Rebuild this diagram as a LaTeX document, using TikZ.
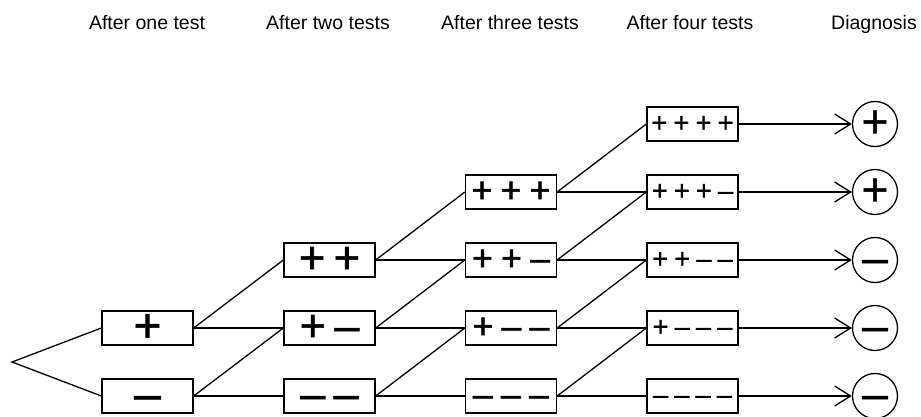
\documentclass[tikz,border=0pt]{standalone}
\usepackage{fontspec}
\setmainfont{Liberation Sans}
\newfontfamily\sgfont{Liberation Sans}[FakeBold=1.3]
\newfontfamily\sgfontl{Liberation Sans}[FakeBold=0.6]
\usetikzlibrary{arrows.meta}
\newcommand\sgP{+}
\newcommand\sgM{–}
\begin{document}
\begin{tikzpicture}[x=1pt,y=-1pt,
  box/.style={draw,line width=1.3pt,minimum width=91pt,minimum height=34pt,inner sep=0pt},
  conn/.style={line width=1.3pt},
  diagc/.style={draw,circle,line width=1.3pt,minimum size=45pt,inner sep=0pt,font=\sgfont\fontsize{46}{48}\selectfont},
  hdr/.style={font=\fontsize{19.5}{22}\selectfont,anchor=base},
  colA/.style={font=\sgfont\fontsize{48}{50}\selectfont},
  colB/.style={font=\sgfont\fontsize{45}{47}\selectfont},
  colC/.style={font=\sgfont\fontsize{36}{38}\selectfont},
  colD/.style={font=\sgfontl\fontsize{27.5}{30}\selectfont},
  tip/.style={-{Straight Barb[length=16pt,width=20pt,line width=1.3pt]}}
]
\useasboundingbox (0,0) rectangle (921,416);
% headers
\node[hdr] (h1) at (147,29) {After one test};
\node[hdr] (h2) at (328,29) {After two tests};
\node[hdr] (h3) at (510,29) {After three tests};
\node[hdr] (h4) at (690,29) {After four tests};
\node[hdr] (h5) at (874,29) {Diagnosis};
% root
\coordinate (root) at (12,362);
% column 1
\node[box,colA] (n13) at (147.5,328) {\vphantom{+}\sgP};
\node[box,colA] (n14) at (147.5,396) {\vphantom{+}\sgM};
% column 2
\node[box,colB] (n22) at (329.5,260) {\vphantom{+}\sgP\kern8.5pt\sgP};
\node[box,colB] (n23) at (329.5,328) {\vphantom{+}\sgP\kern8.5pt\sgM};
\node[box,colB] (n24) at (329.5,396) {\vphantom{+}\sgM\kern8.5pt\sgM};
% column 3
\node[box,colC] (n31) at (511,192) {\vphantom{+}\sgP\kern8pt\sgP\kern8pt\sgP};
\node[box,colC] (n32) at (511,260) {\vphantom{+}\sgP\kern8pt\sgP\kern8pt\sgM};
\node[box,colC] (n33) at (511,328) {\vphantom{+}\sgP\kern8pt\sgM\kern8pt\sgM};
\node[box,colC] (n34) at (511,396) {\vphantom{+}\sgM\kern8pt\sgM\kern8pt\sgM};
% column 4
\node[box,colD] (n40) at (692.5,124) {\vphantom{+}\sgP\kern6pt\sgP\kern6pt\sgP\kern6pt\sgP};
\node[box,colD] (n41) at (692.5,192) {\vphantom{+}\sgP\kern6pt\sgP\kern6pt\sgP\kern6pt\sgM};
\node[box,colD] (n42) at (692.5,260) {\vphantom{+}\sgP\kern6pt\sgP\kern6pt\sgM\kern6pt\sgM};
\node[box,colD] (n43) at (692.5,328) {\vphantom{+}\sgP\kern6pt\sgM\kern6pt\sgM\kern6pt\sgM};
\node[box,colD] (n44) at (692.5,396) {\vphantom{+}\sgM\kern6pt\sgM\kern6pt\sgM\kern6pt\sgM};
% diagnosis
\node[diagc] (d0) at (875,124) {\vphantom{+}\sgP};
\node[diagc] (d1) at (875,192) {\vphantom{+}\sgP};
\node[diagc] (d2) at (875,260) {\vphantom{+}\sgM};
\node[diagc] (d3) at (875,328) {\vphantom{+}\sgM};
\node[diagc] (d4) at (875,396) {\vphantom{+}\sgM};
% connectors
\draw[conn] (n13.west) -- (root) -- (n14.west);
\foreach \c [evaluate=\c as \s using int(4-\c), evaluate=\c as \n using int(\c+1)] in {1,2,3}{
  \foreach \r [evaluate=\r as \m using int(\r-1)] in {\s,...,4}{
    \draw[conn] (n\c\r.east) -- (n\n\r.west);
    \draw[conn] (n\c\r.east) -- (n\n\m.west);
  }
}
\foreach \r in {0,...,4}{
  \draw[conn,tip] (n4\r.east) -- (d\r.west);
}
\end{tikzpicture}
\end{document}
